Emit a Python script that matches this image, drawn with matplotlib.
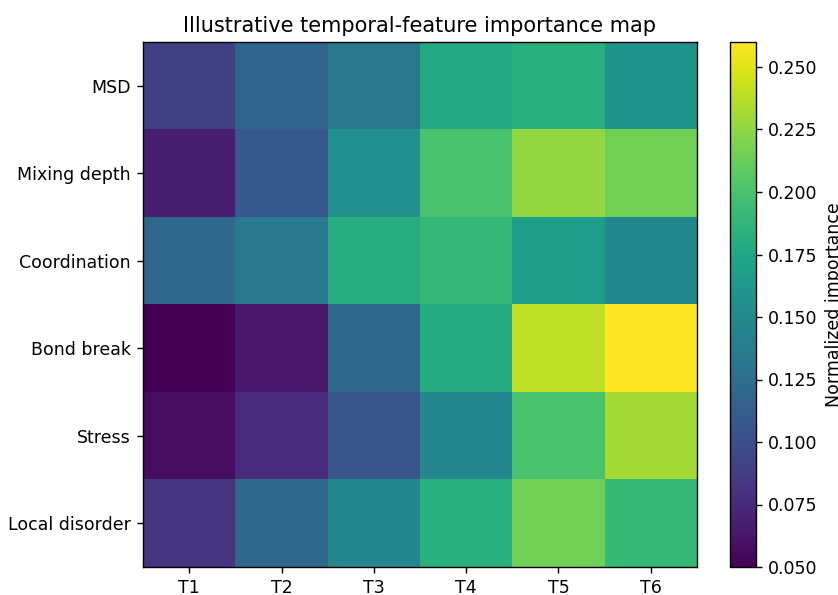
import matplotlib
matplotlib.use("Agg")
import matplotlib.pyplot as plt
import numpy as np

# time windows and features
time_labels = ["T1", "T2", "T3", "T4", "T5", "T6"]
features = ["MSD", "Mixing depth", "Coordination", "Bond break", "Stress", "Local disorder"]

# normalized importance, one row per feature
msd = [0.090, 0.118, 0.135, 0.178, 0.183, 0.158]
mixing_depth = [0.068, 0.108, 0.156, 0.200, 0.226, 0.215]
coordination = [0.120, 0.135, 0.181, 0.190, 0.168, 0.148]
bond_break = [0.050, 0.064, 0.120, 0.180, 0.240, 0.260]
stress = [0.057, 0.075, 0.105, 0.147, 0.200, 0.232]
local_disorder = [0.082, 0.120, 0.147, 0.183, 0.215, 0.191]

data = np.array([msd, mixing_depth, coordination, bond_break, stress, local_disorder])

W, H, DPI = 838, 595, 125
fig = plt.figure(figsize=(W / DPI, H / DPI), dpi=DPI)
ax = fig.add_axes([143 / W, 1 - 567 / H, 554 / W, 525 / H])
cax = fig.add_axes([730 / W, 1 - 567 / H, 26 / W, 525 / H])

im = ax.imshow(data, cmap="viridis", aspect="auto", vmin=0.05, vmax=0.26)
ax.set_xticks(range(len(time_labels)))
ax.set_xticklabels(time_labels)
ax.set_yticks(range(len(features)))
ax.set_yticklabels(features)
ax.set_title("Illustrative temporal-feature importance map")

cb = fig.colorbar(im, cax=cax)
cb.set_label("Normalized importance")

fig.savefig("out.png", dpi=DPI)
